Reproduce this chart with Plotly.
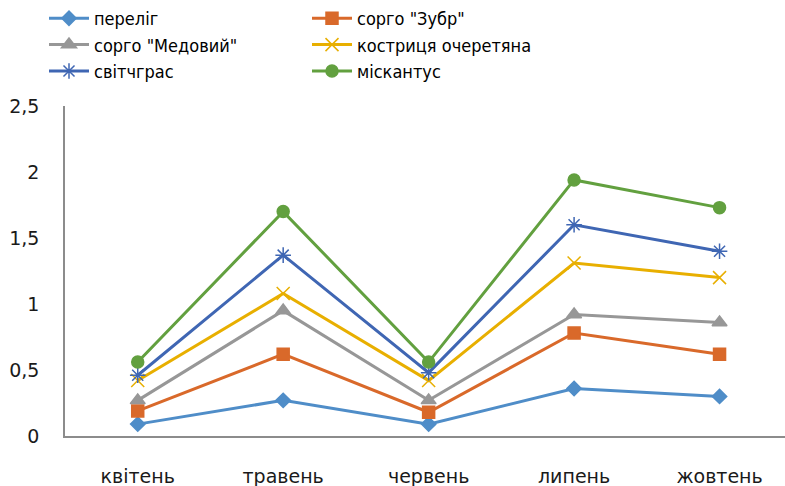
import plotly.graph_objects as go

months = ["квітень", "травень", "червень", "липень", "жовтень"]

pereliig = [0.09, 0.27, 0.09, 0.36, 0.30]
sorgo_zubr = [0.19, 0.62, 0.18, 0.78, 0.62]
sorgo_medovyi = [0.27, 0.95, 0.27, 0.92, 0.86]
kostrytsia = [0.42, 1.08, 0.42, 1.31, 1.20]
svitchgras = [0.46, 1.37, 0.48, 1.60, 1.40]
miskantus = [0.56, 1.70, 0.56, 1.94, 1.73]

series = [
    ("переліг", pereliig, "#4F8DC8", "diamond", 11),
    ("сорго \"Зубр\"", sorgo_zubr, "#D9692A", "square", 12),
    ("сорго \"Медовий\"", sorgo_medovyi, "#979797", "triangle-up", 13),
    ("костриця очеретяна", kostrytsia, "#E8AF00", "x-thin-open", 13),
    ("світчграс", svitchgras, "#3F66B3", "asterisk-open", 13),
    ("міскантус", miskantus, "#62A03F", "circle", 12),
]

fig = go.Figure()
for name, vals, color, symbol, size in series:
    fig.add_trace(go.Scatter(
        x=months, y=vals, name=name, mode="lines+markers",
        line=dict(color=color, width=3),
        marker=dict(symbol=symbol, size=size, color=color,
                    line=dict(color=color, width=1.5)),
    ))

fig.update_layout(
    width=785, height=486,
    margin=dict(l=65, r=0, t=106, b=50),
    paper_bgcolor="white", plot_bgcolor="white",
    separators=", ",
    font=dict(family="DejaVu Sans", size=19, color="#1a1a1a"),
    showlegend=True,
    legend=dict(
        orientation="h", x=44 / 785, xanchor="left", y=1.0, yanchor="top",
        yref="container", xref="container",
        entrywidth=208, entrywidthmode="pixels",
        font=dict(family="DejaVu Sans Condensed", size=18, color="#000000"),
        itemwidth=40, tracegroupgap=0,
        bgcolor="rgba(0,0,0,0)",
    ),
    xaxis=dict(
        type="category", range=[-0.5, 4.45],
        showline=True, linecolor="#8c8c8c", linewidth=2,
        showgrid=False, ticks="", ticklabelstandoff=22,
        zeroline=False,
    ),
    yaxis=dict(
        range=[0, 2.5], tickvals=[0, 0.5, 1, 1.5, 2, 2.5],
        tickformat=".1~f",
        showline=True, linecolor="#8c8c8c", linewidth=1.5,
        showgrid=False, ticks="", ticklabelstandoff=20,
        zeroline=False,
    ),
)

fig.write_html("out.html")
